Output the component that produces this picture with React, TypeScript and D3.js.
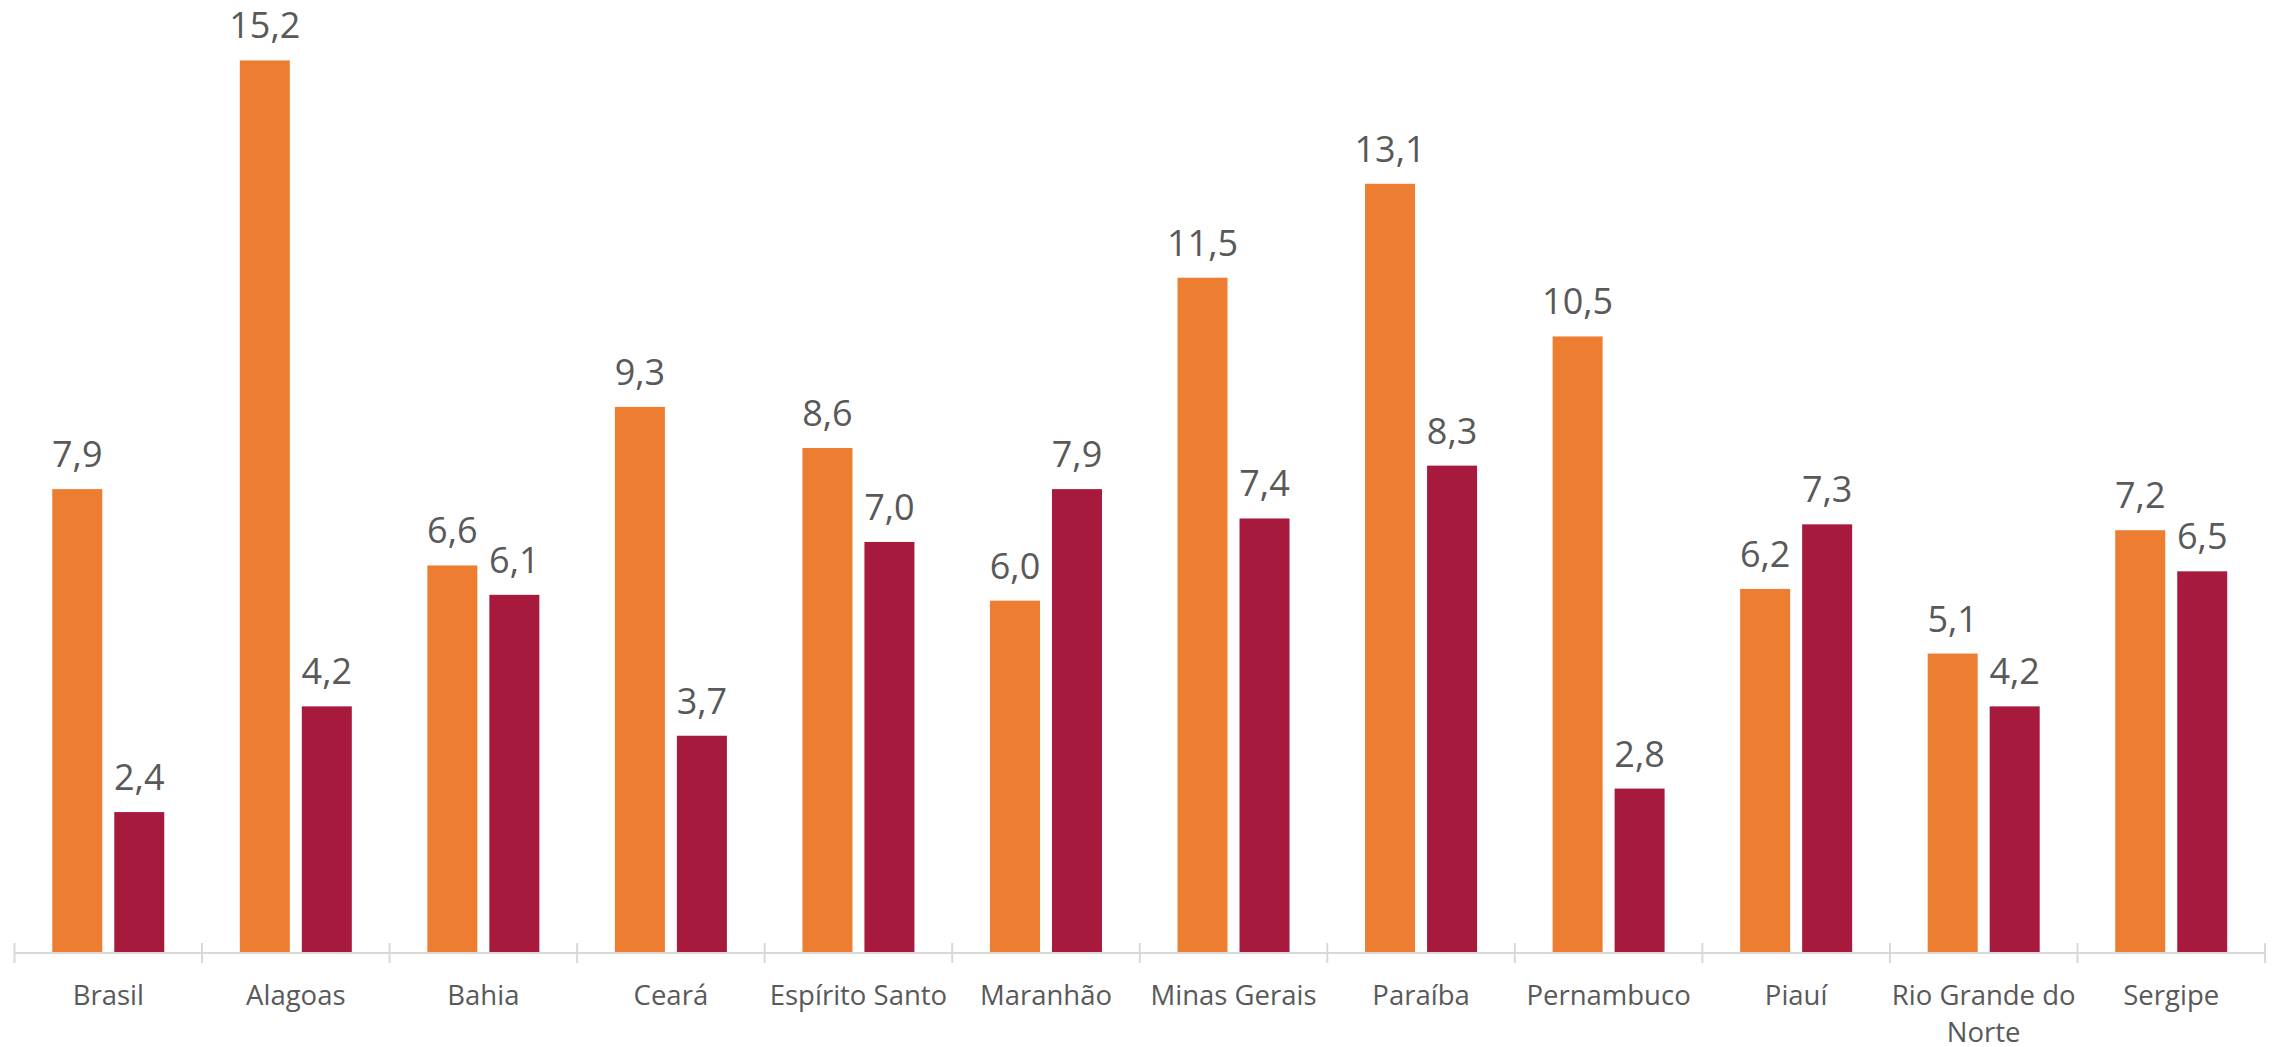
import React from "react";
import * as d3 from "d3";

const categories = [
  "Brasil",
  "Alagoas",
  "Bahia",
  "Ceará",
  "Espírito Santo",
  "Maranhão",
  "Minas Gerais",
  "Paraíba",
  "Pernambuco",
  "Piauí",
  "Rio Grande do Norte",
  "Sergipe",
];
const series1 = [7.9, 15.2, 6.6, 9.3, 8.6, 6.0, 11.5, 13.1, 10.5, 6.2, 5.1, 7.2];
const series2 = [2.4, 4.2, 6.1, 3.7, 7.0, 7.9, 7.4, 8.3, 2.8, 7.3, 4.2, 6.5];
const seriesNames = ["Série 1", "Série 2"];
const seriesColors = ["#ED7D31", "#A71A3E"];
const labelLines: Record<string, string[]> = {
  "Rio Grande do Norte": ["Rio Grande do", "Norte"],
};

const W = 2277;
const H = 1047;
const AXIS_Y = 953;
const X0 = 14.5;
const X1 = 2265;

export default function App() {
  const x = d3.scaleBand<string>().domain(categories).range([X0, X1]).padding(0);
  const inner = d3
    .scaleBand<string>()
    .domain(seriesNames)
    .range([-56, 56])
    .paddingInner(12 / 62)
    .paddingOuter(0);
  const y = d3.scaleLinear().domain([0, 16]).range([AXIS_Y, AXIS_Y - 16 * 58.72]);
  const fmt = (v: number) => d3.format(".1f")(v).replace(".", ",");
  const allSeries = [series1, series2];
  const font = "'Open Sans', 'Noto Sans', sans-serif";

  const tickXs = categories.map((c) => x(c) as number).concat([X1]);

  return (
    <div style={{ position: "absolute", left: 0, top: 0 }}>
      <svg width={W} height={H} style={{ display: "block", background: "#fff" }}>
        {categories.map((c, i) => {
          const cx = (x(c) as number) + x.bandwidth() / 2;
          return (
            <g key={c}>
              {allSeries.map((s, si) => {
                const bx = cx + (inner(seriesNames[si]) as number);
                const v = s[i];
                return (
                  <g key={si}>
                    <rect
                      x={bx}
                      y={y(v)}
                      width={inner.bandwidth()}
                      height={y(0) - y(v)}
                      fill={seriesColors[si]}
                    />
                    <text
                      x={bx + inner.bandwidth() / 2}
                      y={y(v) - 22}
                      textAnchor="middle"
                      fontFamily={font}
                      fontSize={36}
                      fill="#595959"
                    >
                      {fmt(v)}
                    </text>
                  </g>
                );
              })}
              {(labelLines[c] || [c]).map((line, li) => (
                <text
                  key={li}
                  x={cx}
                  y={1005 + li * 37}
                  textAnchor="middle"
                  fontFamily={font}
                  fontSize={27.5}
                  fill="#595959"
                >
                  {line}
                </text>
              ))}
            </g>
          );
        })}
        <line x1={X0} x2={X1} y1={AXIS_Y} y2={AXIS_Y} stroke="#D9D9D9" strokeWidth={2} />
        {tickXs.map((tx, i) => (
          <line
            key={i}
            x1={tx}
            x2={tx}
            y1={AXIS_Y - 10}
            y2={AXIS_Y + 10}
            stroke="#D9D9D9"
            strokeWidth={2}
          />
        ))}
      </svg>
    </div>
  );
}
